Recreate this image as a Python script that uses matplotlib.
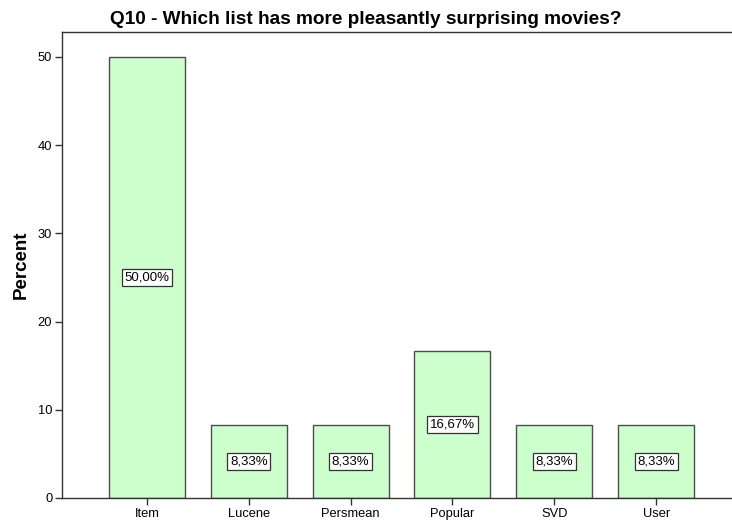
import matplotlib
matplotlib.use("Agg")
import matplotlib.pyplot as plt
import numpy as np

plt.rcParams['font.family'] = ['Liberation Sans', 'DejaVu Sans']

# data
categories = ["Item", "Lucene", "Persmean", "Popular", "SVD", "User"]
percent = [50.00, 8.33, 8.33, 16.67, 8.33, 8.33]
yticks = [0, 10, 20, 30, 40, 50]

fig = plt.figure(figsize=(7.32, 5.24), dpi=100)
ax = fig.add_axes([62/732, 1-498/524, 669/732, 466/524])

x = np.arange(len(categories))
ax.bar(x, percent, width=0.745, color='#ccffcc', edgecolor='#4d4d4d', linewidth=1.0, zorder=2)

for xi, v in zip(x, percent):
    lab = ("%.2f%%" % v).replace('.', ',')
    ax.text(xi, v/2, lab, ha='center', va='center', fontsize=9.5, color='black',
            bbox=dict(boxstyle='square,pad=0.2', fc='white', ec='#333333', lw=0.9), zorder=3)

ax.set_xlim(-0.833, 5.735)
ax.set_ylim(0, 52.83)
ax.set_xticks(x)
ax.set_xticklabels(categories, fontsize=9.3)
ax.set_yticks(yticks)
ax.set_yticklabels([str(t) for t in yticks], fontsize=9.3)
ax.tick_params(axis='both', direction='out', length=5, width=1, color='#333333', pad=2)
ax.set_ylabel("Percent", fontsize=13.5, fontweight='bold')
ax.yaxis.set_label_coords(-32/669, 0.5)
fig.text(0.5, 1-19/524, "Q10 - Which list has more pleasantly surprising movies?",
         fontsize=13.7, fontweight='bold', ha='center', va='center')

for s in ['left', 'bottom', 'top']:
    ax.spines[s].set_color('#333333')
    ax.spines[s].set_linewidth(1.0)
ax.spines['right'].set_visible(False)

fig.savefig("out.png", dpi=100)
